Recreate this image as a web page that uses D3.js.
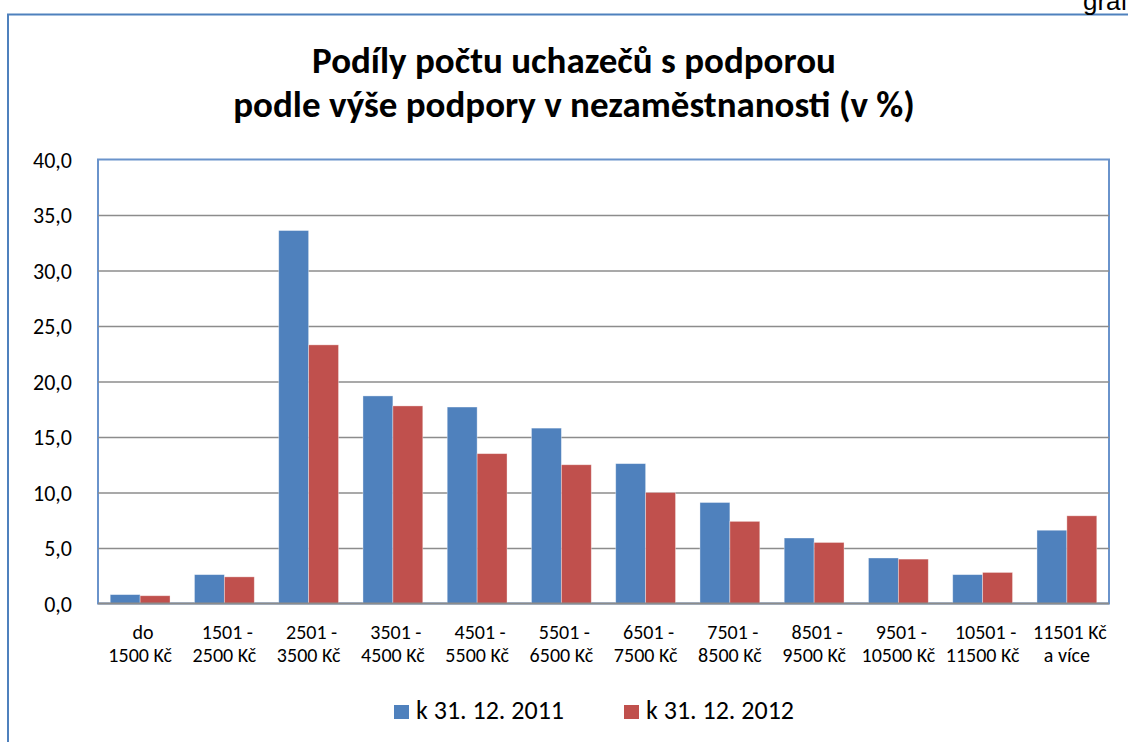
<!DOCTYPE html>
<html>
<head>
<meta charset="utf-8">
<script src="https://cdn.jsdelivr.net/npm/d3@7"></script>
<style>
  body { margin: 0; background: #fff; }
  text { font-family: Carlito, Lato, "Open Sans", sans-serif; fill: #000; }
</style>
</head>
<body>
<div id="chart"></div>
<script>
// chart data
const categories = ["do 1500 Kč", "1501 - 2500 Kč", "2501 - 3500 Kč", "3501 - 4500 Kč", "4501 - 5500 Kč",
    "5501 - 6500 Kč", "6501 - 7500 Kč", "7501 - 8500 Kč", "8501 - 9500 Kč", "9501 - 10500 Kč",
    "10501 - 11500 Kč", "11501 Kč a více"];
const labelLine1 = ["do", "1501 -", "2501 -", "3501 -", "4501 -", "5501 -", "6501 -", "7501 -", "8501 -", "9501 -", "10501 -", "11501 Kč"];
const labelLine2 = ["1500 Kč", "2500 Kč", "3500 Kč", "4500 Kč", "5500 Kč", "6500 Kč", "7500 Kč", "8500 Kč", "9500 Kč", "10500 Kč", "11500 Kč", "a více"];
const seriesNames = ["k 31. 12. 2011", "k 31. 12. 2012"];
const values2011 = [0.8, 2.6, 33.6, 18.7, 17.7, 15.8, 12.6, 9.1, 5.9, 4.1, 2.6, 6.6];
const values2012 = [0.7, 2.4, 23.3, 17.8, 13.5, 12.5, 10.0, 7.4, 5.5, 4.0, 2.8, 7.9];
const yTicks = [0, 5, 10, 15, 20, 25, 30, 35, 40];
const colors = ["#4F81BD", "#C0504D"];

// svg area
const svgWidth = 1128;
const svgHeight = 742;
const plot = { left: 98, right: 1109, top: 159.5, bottom: 603.5 };

const svg = d3.select("#chart").append("svg")
    .attr("width", svgWidth)
    .attr("height", svgHeight);

// outer chart frame (continues past the window edge)
svg.append("path")
    .attr("d", `M8,${svgHeight + 5} L8,14.5 L${svgWidth + 5},14.5`)
    .attr("fill", "none")
    .attr("stroke", "#4F81BD")
    .attr("stroke-width", 2);

// page text in top right corner, cut off like in the original
svg.append("text")
    .attr("x", 1083)
    .attr("y", 10)
    .style("font-family", "'Liberation Sans', Arial, sans-serif")
    .style("font-size", "26px")
    .text("graf");

// title
const title = svg.append("text")
    .attr("text-anchor", "middle")
    .style("font-weight", "bold")
    .style("font-size", "37px");
title.append("tspan").attr("x", 574).attr("y", 73).text("Podíly počtu uchazečů s podporou");
title.append("tspan").attr("x", 574).attr("y", 117).text("podle výše podpory v nezaměstnanosti (v %)");

// scales
const x0 = d3.scaleBand()
    .domain(categories)
    .range([plot.left, plot.right])
    .paddingInner(0.29)
    .paddingOuter(0.145);

const x1 = d3.scaleBand()
    .domain(seriesNames)
    .range([0, x0.bandwidth()]);

const y = d3.scaleLinear()
    .domain([0, 40])
    .range([plot.bottom, plot.top]);

// plot area border
svg.append("rect")
    .attr("x", plot.left)
    .attr("y", plot.top)
    .attr("width", plot.right - plot.left)
    .attr("height", plot.bottom - plot.top)
    .attr("fill", "#fff")
    .attr("stroke", "#6A93CB")
    .attr("stroke-width", 2);

// gridlines
const grid = d3.axisLeft(y)
    .tickValues(yTicks.filter(d => d > 0 && d < 40))
    .tickSize(-(plot.right - plot.left))
    .tickFormat("");
svg.append("g")
    .attr("transform", `translate(${plot.left},0)`)
    .call(grid)
    .call(g => g.select(".domain").remove())
    .call(g => g.selectAll("line").attr("stroke", "#8C8C8C").attr("stroke-width", 1.6));

// y axis labels
const yAxis = d3.axisLeft(y)
    .tickValues(yTicks)
    .tickSize(0)
    .tickPadding(26)
    .tickFormat(d => d3.format(".1f")(d).replace(".", ","));
svg.append("g")
    .attr("transform", `translate(${plot.left},0)`)
    .call(yAxis)
    .call(g => g.select(".domain").remove())
    .call(g => g.selectAll("text").style("font-size", "22px").attr("dy", "0.36em"));

// bars
const rows = categories.map((c, i) => ({ cat: c, vals: [values2011[i], values2012[i]] }));
const groups = svg.append("g")
    .selectAll("g")
    .data(rows)
    .enter()
    .append("g")
    .attr("transform", d => `translate(${x0(d.cat)},0)`);

groups.selectAll("rect")
    .data(d => d.vals.map((v, j) => ({ name: seriesNames[j], value: v, j: j })))
    .enter()
    .append("rect")
    .attr("x", d => x1(d.name))
    .attr("y", d => y(d.value))
    .attr("width", x1.bandwidth())
    .attr("height", d => y(0) - y(d.value))
    .attr("fill", d => colors[d.j])
    .attr("stroke", "rgba(255,255,255,0.45)")
    .attr("stroke-width", 0.8);

// x axis line
svg.append("line")
    .attr("x1", plot.left)
    .attr("x2", plot.right)
    .attr("y1", plot.bottom)
    .attr("y2", plot.bottom)
    .attr("stroke", "#8C8C8C")
    .attr("stroke-width", 2);

// x labels, two lines each as separate texts
const xLabelG = svg.append("g").style("font-size", "20px");
xLabelG.selectAll("text.l1")
    .data(categories)
    .enter()
    .append("text")
    .attr("class", "l1")
    .attr("text-anchor", "middle")
    .attr("x", d => x0(d) + x0.bandwidth() / 2 + 3)
    .attr("y", 639)
    .text((d, i) => labelLine1[i]);
xLabelG.selectAll("text.l2")
    .data(categories)
    .enter()
    .append("text")
    .attr("class", "l2")
    .attr("text-anchor", "middle")
    .attr("x", d => x0(d) + x0.bandwidth() / 2)
    .attr("y", 662)
    .text((d, i) => labelLine2[i]);

// legend
const legendX = [394, 624];
const legend = svg.append("g")
    .selectAll("g")
    .data(seriesNames)
    .enter()
    .append("g")
    .attr("transform", (d, i) => `translate(${legendX[i]}, 705)`);

legend.append("rect")
    .attr("width", 15)
    .attr("height", 14)
    .attr("fill", (d, i) => colors[i]);

legend.append("text")
    .attr("x", 22)
    .attr("y", 13.5)
    .style("font-size", "26px")
    .text(d => d);
</script>
</body>
</html>
